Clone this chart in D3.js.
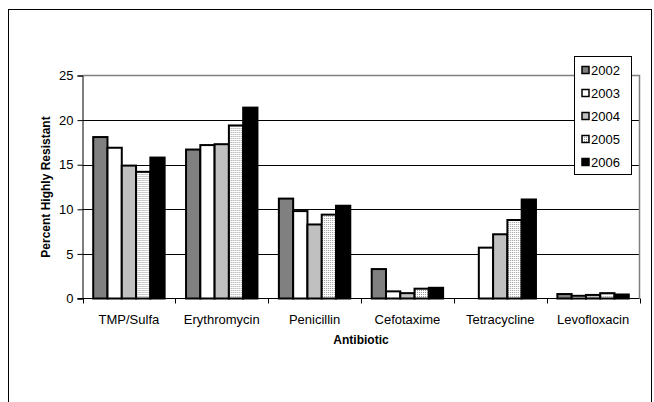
<!DOCTYPE html>
<html>
<head>
<meta charset="utf-8">
<script src="https://cdn.jsdelivr.net/npm/d3@7"></script>
<style>
  body { margin: 0; background: #fff; }
  text { font-family: "Liberation Sans", Arial, sans-serif; }
</style>
</head>
<body>
<svg id="svg" width="654" height="402"></svg>
<script>
var categories = ["TMP/Sulfa", "Erythromycin", "Penicillin", "Cefotaxime", "Tetracycline", "Levofloxacin"];
var years = ["2002", "2003", "2004", "2005", "2006"];
var v2002 = [18.1, 16.7, 11.2, 3.3, null, 0.5];
var v2003 = [16.9, 17.2, 9.8, 0.8, 5.7, 0.3];
var v2004 = [14.9, 17.3, 8.3, 0.6, 7.2, 0.4];
var v2005 = [14.2, 19.4, 9.4, 1.1, 8.8, 0.6];
var v2006 = [15.8, 21.4, 10.4, 1.2, 11.1, 0.45];
var yTicks = [0, 5, 10, 15, 20, 25];

var series = [v2002, v2003, v2004, v2005, v2006];
var fills = ["#808080", "#ffffff", "#c0c0c0", "url(#dots)", "#000000"];

var svg = d3.select("#svg");
var plotL = 82.5, plotR = 639.5, plotT = 75.5, plotB = 298.5;

// dotted fill for 2005
var pat = svg.append("defs").append("pattern")
  .attr("id", "dots").attr("width", 2).attr("height", 2)
  .attr("patternUnits", "userSpaceOnUse");
pat.append("rect").attr("width", 2).attr("height", 2).attr("fill", "#fff");
pat.append("rect").attr("width", 1).attr("height", 1).attr("fill", "#999");

// outer frame
svg.append("rect").attr("x", 8.5).attr("y", 9.5).attr("width", 643).attr("height", 400)
  .attr("fill", "none").attr("stroke", "#000");

var x0 = d3.scaleBand().domain(categories).range([plotL, plotR]).paddingInner(0).paddingOuter(0);
var x1 = d3.scaleBand().domain(years).range([0, x0.bandwidth()]).paddingInner(0).paddingOuter(0.75);
var y = d3.scaleLinear().domain([0, 25]).range([plotB, plotT]);

// gridlines
svg.append("g").selectAll("line").data(yTicks.filter(function(d) { return d > 0 && d < 25; })).enter()
  .append("line")
  .attr("x1", plotL).attr("x2", plotR)
  .attr("y1", function(d) { return Math.round(y(d)) + 0.5; })
  .attr("y2", function(d) { return Math.round(y(d)) + 0.5; })
  .attr("stroke", "#000");

// plot border top/right
svg.append("path").attr("d", "M" + plotL + "," + plotT + "H" + plotR + "V" + plotB)
  .attr("fill", "none").attr("stroke", "#808080").attr("stroke-width", 1.5);

// bars
var groups = svg.append("g").selectAll("g").data(categories).enter().append("g")
  .attr("transform", function(d) { return "translate(" + x0(d) + ",0)"; });
groups.selectAll("rect").data(function(c, ci) {
    return years.map(function(yr, si) { return { year: yr, s: si, v: series[si][ci] }; })
      .filter(function(d) { return d.v !== null; });
  }).enter().append("rect")
  .attr("x", function(d) { return x1(d.year); })
  .attr("width", x1.bandwidth())
  .attr("y", function(d) { return y(d.v); })
  .attr("height", function(d) { return y(0) - y(d.v); })
  .attr("fill", function(d) { return fills[d.s]; })
  .attr("stroke", "#000").attr("stroke-width", 2);

// y axis
var yAxis = svg.append("g").attr("transform", "translate(" + plotL + ",0)")
  .call(d3.axisLeft(y).tickValues(yTicks).tickSize(5).tickPadding(4));
yAxis.select(".domain").attr("stroke", "#000");
yAxis.selectAll("text").attr("font-size", 13).attr("fill", "#000")
  .attr("font-family", "Liberation Sans, Arial, sans-serif");

// x axis
var xAxis = svg.append("g").attr("transform", "translate(0," + plotB + ")");
xAxis.append("line").attr("x1", plotL - 5).attr("x2", plotR).attr("stroke", "#000");
xAxis.selectAll("line.t").data(d3.range(categories.length + 1)).enter().append("line")
  .attr("class", "t")
  .attr("x1", function(i) { return Math.round(plotL + i * x0.step()) + 0.5; })
  .attr("x2", function(i) { return Math.round(plotL + i * x0.step()) + 0.5; })
  .attr("y1", 0).attr("y2", 5).attr("stroke", "#000");
xAxis.selectAll("text").data(categories).enter().append("text")
  .attr("x", function(d) { return x0(d) + x0.bandwidth() / 2; })
  .attr("y", 25).attr("text-anchor", "middle").attr("font-size", 13)
  .text(function(d) { return d; });

// axis titles
svg.append("text").attr("x", (plotL + plotR) / 2).attr("y", 344)
  .attr("text-anchor", "middle").attr("font-size", 12).attr("font-weight", "bold")
  .text("Antibiotic");
svg.append("text").attr("transform", "translate(50," + (plotT + plotB) / 2 + ") rotate(-90)")
  .attr("text-anchor", "middle").attr("font-size", 12).attr("font-weight", "bold")
  .text("Percent Highly Resistant");

// legend
var legend = svg.append("g");
legend.append("rect").attr("x", 574.5).attr("y", 56.5).attr("width", 57).attr("height", 118)
  .attr("fill", "#fff").attr("stroke", "#000");
var items = legend.selectAll("g").data(years).enter().append("g")
  .attr("transform", function(d, i) { return "translate(0," + (70 + i * 23) + ")"; });
items.append("rect").attr("x", 582).attr("y", -3.5).attr("width", 7).attr("height", 7)
  .attr("fill", function(d, i) { return fills[i]; })
  .attr("stroke", "#000").attr("stroke-width", 1.5);
items.append("text").attr("x", 591).attr("y", 4.5).attr("font-size", 13)
  .text(function(d) { return d; });
</script>
</body>
</html>
